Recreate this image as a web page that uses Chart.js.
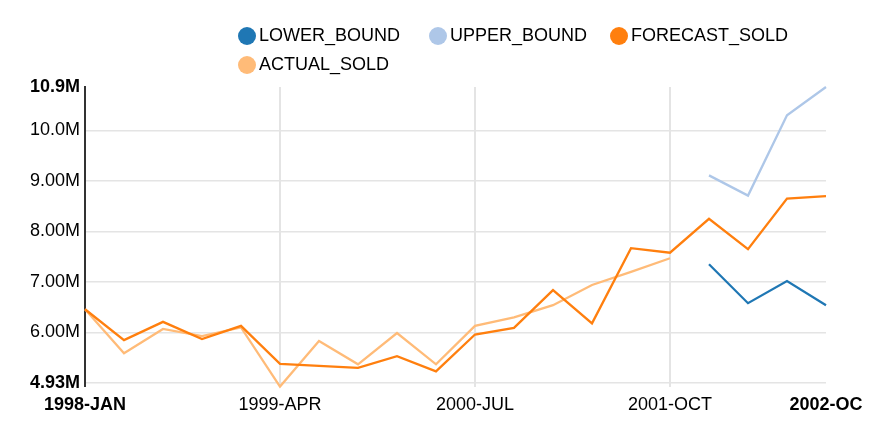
<!DOCTYPE html>
<html>
<head>
<meta charset="utf-8">
<script src="https://cdn.jsdelivr.net/npm/chart.js@4"></script>
<style>
  body { margin: 0; background: #fff; }
  #wrap { position: relative; width: 873px; height: 435px; }
  #chart { position: absolute; left: 0; top: 0; }
  #legend {
    position: absolute; left: 238px; top: 21px;
    display: grid; grid-template-columns: 191px 181px auto;
    grid-auto-rows: 29px;
    font: 18px "Liberation Sans", Arial, sans-serif; color: #000;
  }
  #legend .item { display: flex; align-items: center; }
  #legend .dot { width: 18px; height: 18px; border-radius: 50%; margin-right: 3px; }
</style>
</head>
<body>
<div id="wrap">
  <canvas id="chart" width="873" height="435"></canvas>
  <div id="legend"></div>
</div>
<script>
// quarters 1998-JAN .. 2002-OCT
const quarters = [
  '1998-JAN', '1998-APR', '1998-JUL', '1998-OCT',
  '1999-JAN', '1999-APR', '1999-JUL', '1999-OCT',
  '2000-JAN', '2000-APR', '2000-JUL', '2000-OCT',
  '2001-JAN', '2001-APR', '2001-JUL', '2001-OCT',
  '2002-JAN', '2002-APR', '2002-JUL', '2002-OCT'
];

// values in millions
const lowerBound = [null, null, null, null, null, null, null, null, null, null,
  null, null, null, null, null, null, 7.35, 6.58, 7.02, 6.54];
const upperBound = [null, null, null, null, null, null, null, null, null, null,
  null, null, null, null, null, null, 9.11, 8.71, 10.30, 10.86];
const forecastSold = [6.46, 5.85, 6.21, 5.87, 6.13, 5.38, 5.34, 5.30, 5.53, 5.23,
  5.96, 6.09, 6.84, 6.18, 7.67, 7.58, 8.25, 7.65, 8.65, 8.70];
const actualSold = [6.46, 5.59, 6.07, 5.93, 6.10, 4.93, 5.83, 5.37, 5.99, 5.37,
  6.13, 6.30, 6.54, 6.94, 7.20, 7.47, null, null, null, null];

// axis ticks
const xTickIdx = [0, 5, 10, 15, 19];
const xTickText = ['1998-JAN', '1999-APR', '2000-JUL', '2001-OCT', '2002-OC'];
const yTickVals = [5.0, 6, 7, 8, 9, 10, 10.86];
const yTickText = ['4.93M', '6.00M', '7.00M', '8.00M', '9.00M', '10.0M', '10.9M'];

const FONT = '"Liberation Sans", Arial, sans-serif';

function line(label, data, color) {
  return {
    label: label,
    data: data,
    borderColor: color,
    backgroundColor: color,
    borderWidth: 2.3,
    pointRadius: 0,
    tension: 0,
    spanGaps: false,
    clip: false
  };
}

const chart = new Chart(document.getElementById('chart'), {
  type: 'line',
  data: {
    labels: quarters,
    datasets: [
      line('LOWER_BOUND', lowerBound, '#1f77b4'),
      line('UPPER_BOUND', upperBound, '#aec7e8'),
      line('FORECAST_SOLD', forecastSold, '#ff7f0e'),
      line('ACTUAL_SOLD', actualSold, '#ffbb78')
    ]
  },
  options: {
    responsive: false,
    animation: false,
    layout: { padding: { top: 87, right: 47, bottom: 0, left: 0 } },
    plugins: { legend: { display: false }, tooltip: { enabled: false } },
    scales: {
      x: {
        offset: false,
        afterBuildTicks: s => { s.ticks = xTickIdx.map(v => ({ value: v })); },
        afterFit: s => { s.height = 52; },
        border: { display: false },
        grid: {
          color: c => c.index === 0 ? '#333' : (c.index === xTickIdx.length - 1 ? 'rgba(0,0,0,0)' : '#e4e4e4'),
          lineWidth: 2,
          tickLength: 4
        },
        ticks: {
          autoSkip: false,
          maxRotation: 0,
          padding: 7,
          color: '#000',
          font: c => ({ family: FONT, size: 18,
            weight: (c.index === 0 || c.index === xTickIdx.length - 1) ? 'bold' : 'normal' }),
          callback: (v, i) => xTickText[i]
        }
      },
      y: {
        min: yTickVals[0],
        max: yTickVals[yTickVals.length - 1],
        afterBuildTicks: s => { s.ticks = yTickVals.map(v => ({ value: v })); },
        afterFit: s => { s.width = 85; },
        border: { display: true, color: '#333', width: 2 },
        grid: {
          color: c => c.index === yTickVals.length - 1 ? 'rgba(0,0,0,0)' : '#e4e4e4',
          lineWidth: 1.5,
          drawTicks: false
        },
        ticks: {
          padding: 5,
          color: '#000',
          font: c => ({ family: FONT, size: 18,
            weight: (c.index === 0 || c.index === yTickVals.length - 1) ? 'bold' : 'normal' }),
          callback: (v, i) => yTickText[i]
        }
      }
    }
  }
});

// html legend built from the datasets
const legendEl = document.getElementById('legend');
chart.data.datasets.forEach(ds => {
  const item = document.createElement('div');
  item.className = 'item';
  const dot = document.createElement('span');
  dot.className = 'dot';
  dot.style.background = ds.borderColor;
  const txt = document.createElement('span');
  txt.textContent = ds.label;
  item.appendChild(dot);
  item.appendChild(txt);
  legendEl.appendChild(item);
});
</script>
</body>
</html>
